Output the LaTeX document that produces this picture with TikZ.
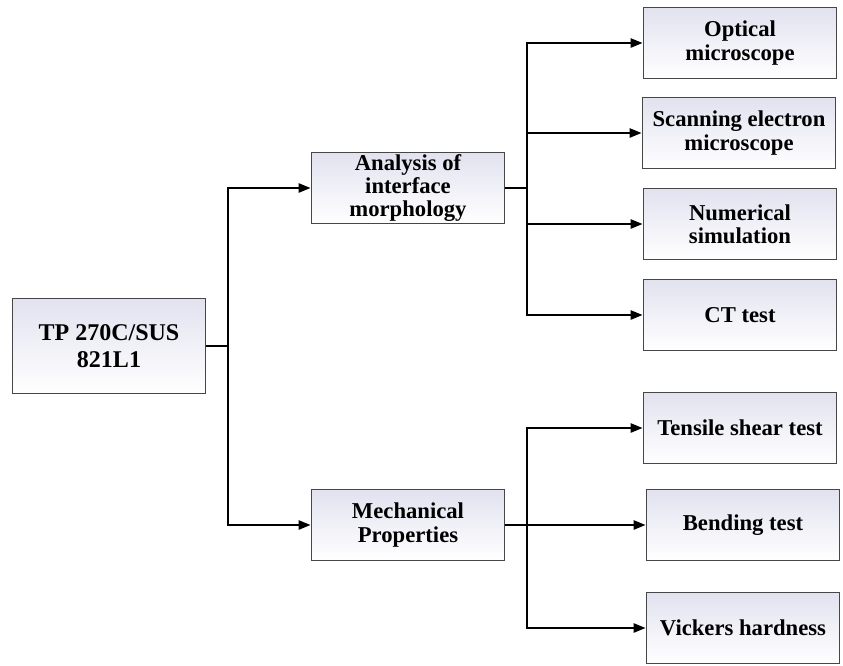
\documentclass[tikz,border=0pt]{standalone}
\usepackage{fontspec}
\setmainfont{Liberation Serif}
\usetikzlibrary{arrows.meta}

\definecolor{boxtop}{RGB}{226,226,240}
\definecolor{boxline}{RGB}{70,70,70}

\tikzset{
  testbox/.style={draw=boxline, line width=1.2pt, top color=boxtop, bottom color=white,
    minimum width=145pt, minimum height=53pt, align=center,
    font=\fontsize{17}{17.5}\selectfont\bfseries, inner sep=1pt},
  link/.style={line width=1.3pt},
  feed/.style={link, -{Triangle[length=9pt,width=7pt]}}
}

\begin{document}
\begin{tikzpicture}[x=0.75pt, y=-0.75pt]
		\useasboundingbox (0,0) rectangle (843,665);
		% sample and the two groups of work
		\node [testbox, minimum height=71pt, font=\fontsize{18}{20.5}\selectfont\bfseries] (root) at (109, 346) {TP 270C/SUS\\821L1};
		\node [testbox] (ana) at (408, 188) {Analysis of\\interface\\morphology};
		\node [testbox] (mech) at (408, 525) {Mechanical\\Properties};
		% tests
		\node [testbox] (opt) at (740, 43) {Optical\\microscope};
		\node [testbox] (sem) at (739, 133) {Scanning electron\\microscope};
		\node [testbox] (num) at (740, 224) {Numerical\\simulation};
		\node [testbox] (ct) at (740, 315) {CT test};
		\node [testbox] (tens) at (740, 428) {Tensile shear test};
		\node [testbox] (bend) at (743, 525) {Bending test};
		\node [testbox] (vick) at (743, 628) {Vickers hardness};
		% junctions
		\coordinate (jroot) at (228, 346);
		\coordinate (jana) at (527, 188);
		\coordinate (jmech) at (527, 525);
		\draw [link] (root.east) -- (jroot);
		\draw [feed] (jroot) |- (ana.west);
		\draw [feed] (jroot) |- (mech.west);
		\draw [link] (ana.east) -- (jana);
		\draw [feed] (jana) |- (opt.west);
		\draw [feed] (jana) |- (sem.west);
		\draw [feed] (jana) |- (num.west);
		\draw [feed] (jana) |- (ct.west);
		\draw [link] (mech.east) -- (jmech);
		\draw [feed] (jmech) |- (tens.west);
		\draw [feed] (jmech) -- (bend.west);
		\draw [feed] (jmech) |- (vick.west);
	\end{tikzpicture}
\end{document}
